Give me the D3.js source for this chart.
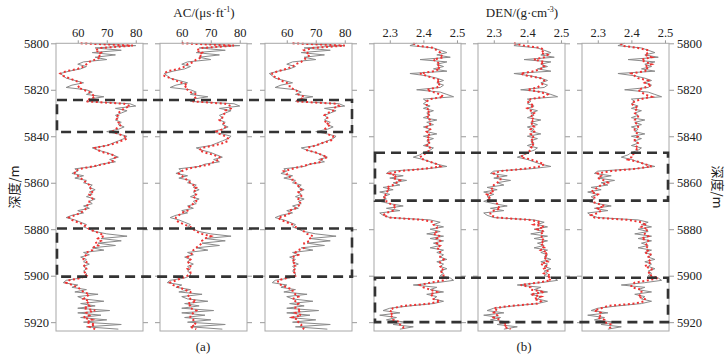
<!DOCTYPE html>
<html lang="zh">
<head>
  <meta charset="UTF-8" />
  <title>AC / DEN logs</title>
  <script src="https://cdn.jsdelivr.net/npm/d3@7"></script>
  <style>
    body { margin: 0; background: #fff; }
    text { font-family: "Liberation Serif", "Times New Roman", serif; fill: #222; }
    .cjk { font-family: "Noto Sans CJK SC", sans-serif; }
  </style>
</head>
<body>
<div id="chart"></div>
<script>
// depth index (m)
var depths = [
  5800,5801,5802,5803,5804,5805,5806,5807,5808,5809,
  5810,5811,5812,5813,5814,5815,5816,5817,5818,5819,
  5820,5821,5822,5823,5824,5825,5826,5827,5828,5829,
  5830,5831,5832,5833,5834,5835,5836,5837,5838,5839,
  5840,5841,5842,5843,5844,5845,5846,5847,5848,5849,
  5850,5851,5852,5853,5854,5855,5856,5857,5858,5859,
  5860,5861,5862,5863,5864,5865,5866,5867,5868,5869,
  5870,5871,5872,5873,5874,5875,5876,5877,5878,5879,
  5880,5881,5882,5883,5884,5885,5886,5887,5888,5889,
  5890,5891,5892,5893,5894,5895,5896,5897,5898,5899,
  5900,5901,5902,5903,5904,5905,5906,5907,5908,5909,
  5910,5911,5912,5913,5914,5915,5916,5917,5918,5919,
  5920,5921,5922,5923];

// measured AC (gray)
var acMeasured = [
  62,80,66,75,65,73,66,70,62,60,
  63,61,57,54,55,56,59,62,58,56,
  63,65,63,69,64,63,78,80,73,77,
  75,73,74,73,75,74,76,74,70,74,
  77,76,74,72,70,65,67,70,72,74,
  71,73,68,66,59,60,58,62,59,63,
  62,65,64,66,64,65,63,66,64,65,
  62,64,60,62,58,56,59,61,63,62,
  64,66,70,77,68,75,67,73,65,69,
  62,64,61,63,62,64,62,63,62,63,
  63,61,56,55,60,58,63,59,67,60,
  62,69,61,66,60,71,60,68,61,70,
  62,75,63,74];

// predicted AC, three models (red dotted)
var acPred1 = [
  61,79,68,66,68,67,68,66,64,63,
  62,60,56,54,55,57,59,61,61,60,
  62,64,65,66,64,63,76,78,76,75,
  74,74,73,74,74,75,74,73,72,74,
  76,77,75,73,70,66,67,69,72,73,
  72,72,69,65,61,59,59,60,61,62,
  63,64,64,65,65,64,65,65,64,64,
  63,63,62,61,59,57,58,60,62,63,
  64,66,68,69,67,68,66,67,65,65,
  63,63,62,62,63,63,62,63,63,62,
  63,61,57,56,58,60,61,62,64,63,
  62,64,63,64,62,66,63,64,62,65,
  63,66,64,66];
var acPred2 = [
  60,78,67,65,67,66,67,65,64,62,
  61,59,55,54,54,56,58,60,62,61,
  62,63,65,65,64,64,75,77,77,75,
  75,74,74,73,74,75,75,74,72,73,
  75,76,76,74,71,67,66,68,71,73,
  73,71,70,66,62,60,59,60,61,62,
  63,64,65,64,65,65,64,65,65,64,
  63,62,62,60,59,58,58,59,61,63,
  64,65,67,70,68,67,67,66,65,64,
  64,63,62,63,62,63,63,62,63,63,
  62,60,58,56,57,59,61,63,63,62,
  63,65,62,63,63,65,64,63,63,64,
  64,65,63,65];
var acPred3 = [
  62,80,69,66,67,68,67,66,65,63,
  62,60,57,55,55,57,58,60,61,61,
  63,64,64,66,65,63,77,78,76,76,
  74,73,74,74,73,75,74,73,73,74,
  76,76,75,72,70,67,67,70,72,74,
  72,72,68,65,62,59,60,60,62,62,
  63,64,64,65,64,65,65,64,64,65,
  64,63,61,61,60,57,58,60,62,63,
  65,66,67,69,68,68,66,66,66,64,
  63,64,62,62,63,62,63,63,62,63,
  63,60,57,57,58,60,62,62,63,64,
  62,63,64,63,63,65,63,65,62,64,
  64,65,65,66];

// measured DEN (gray)
var denMeasured = [
  2.38,2.36,2.43,2.45,2.47,2.44,2.48,2.39,2.47,2.44,
  2.46,2.43,2.47,2.36,2.41,2.44,2.46,2.44,2.46,2.45,
  2.38,2.45,2.47,2.49,2.40,2.41,2.40,2.42,2.40,2.43,
  2.41,2.42,2.40,2.44,2.41,2.43,2.40,2.42,2.41,2.44,
  2.40,2.43,2.41,2.42,2.40,2.43,2.42,2.40,2.39,2.37,
  2.40,2.42,2.44,2.47,2.41,2.30,2.29,2.34,2.30,2.35,
  2.31,2.33,2.28,2.31,2.27,2.30,2.28,2.29,2.27,2.30,
  2.34,2.29,2.33,2.27,2.28,2.30,2.42,2.45,2.43,2.46,
  2.42,2.45,2.41,2.46,2.42,2.46,2.43,2.45,2.42,2.46,
  2.44,2.46,2.45,2.47,2.44,2.46,2.45,2.47,2.45,2.46,
  2.45,2.48,2.49,2.44,2.37,2.44,2.42,2.46,2.41,2.44,
  2.43,2.46,2.43,2.36,2.30,2.28,2.33,2.27,2.32,2.29,
  2.35,2.31,2.37,2.33];

// predicted DEN, three models
var denPred1 = [
  2.37,2.38,2.43,2.44,2.45,2.45,2.46,2.43,2.44,2.45,
  2.44,2.45,2.43,2.39,2.41,2.43,2.45,2.44,2.45,2.44,
  2.41,2.43,2.45,2.46,2.42,2.41,2.41,2.41,2.41,2.42,
  2.41,2.42,2.41,2.42,2.42,2.42,2.41,2.42,2.41,2.42,
  2.41,2.42,2.41,2.42,2.41,2.42,2.42,2.41,2.40,2.39,
  2.40,2.42,2.44,2.45,2.40,2.33,2.30,2.32,2.31,2.33,
  2.32,2.31,2.29,2.30,2.29,2.29,2.28,2.29,2.29,2.30,
  2.32,2.31,2.31,2.29,2.28,2.30,2.40,2.43,2.43,2.44,
  2.44,2.44,2.43,2.45,2.44,2.45,2.44,2.45,2.44,2.45,
  2.45,2.45,2.45,2.46,2.45,2.45,2.45,2.46,2.45,2.46,
  2.46,2.47,2.46,2.42,2.39,2.40,2.42,2.44,2.42,2.43,
  2.43,2.45,2.42,2.34,2.31,2.30,2.31,2.30,2.31,2.31,
  2.33,2.33,2.34,2.34];
var denPred2 = [
  2.36,2.39,2.44,2.45,2.44,2.46,2.45,2.42,2.45,2.44,
  2.45,2.44,2.42,2.38,2.40,2.44,2.45,2.45,2.44,2.43,
  2.40,2.44,2.46,2.45,2.41,2.40,2.41,2.42,2.40,2.41,
  2.42,2.41,2.42,2.41,2.42,2.41,2.42,2.41,2.42,2.41,
  2.42,2.41,2.42,2.41,2.42,2.41,2.41,2.40,2.39,2.38,
  2.41,2.43,2.45,2.44,2.39,2.32,2.30,2.31,2.32,2.32,
  2.31,2.30,2.30,2.29,2.30,2.28,2.29,2.28,2.30,2.31,
  2.31,2.32,2.30,2.29,2.29,2.31,2.41,2.44,2.42,2.45,
  2.43,2.45,2.44,2.44,2.45,2.44,2.45,2.44,2.45,2.44,
  2.46,2.45,2.46,2.45,2.46,2.44,2.46,2.45,2.46,2.45,
  2.47,2.46,2.47,2.43,2.38,2.41,2.41,2.45,2.41,2.44,
  2.42,2.44,2.43,2.35,2.30,2.31,2.30,2.31,2.30,2.32,
  2.32,2.34,2.33,2.35];
var denPred3 = [
  2.37,2.37,2.42,2.45,2.45,2.44,2.46,2.43,2.44,2.46,
  2.44,2.45,2.44,2.40,2.41,2.42,2.45,2.44,2.46,2.44,
  2.42,2.43,2.44,2.46,2.43,2.41,2.40,2.41,2.42,2.41,
  2.41,2.42,2.42,2.41,2.41,2.42,2.42,2.41,2.41,2.42,
  2.42,2.41,2.41,2.42,2.42,2.41,2.42,2.42,2.40,2.40,
  2.39,2.42,2.44,2.46,2.41,2.34,2.30,2.31,2.30,2.32,
  2.33,2.31,2.30,2.29,2.28,2.30,2.29,2.29,2.28,2.30,
  2.32,2.30,2.31,2.30,2.28,2.29,2.39,2.43,2.44,2.43,
  2.45,2.44,2.44,2.45,2.43,2.45,2.45,2.44,2.45,2.45,
  2.44,2.46,2.45,2.45,2.46,2.45,2.44,2.46,2.46,2.45,
  2.46,2.48,2.45,2.41,2.40,2.40,2.43,2.43,2.43,2.42,
  2.44,2.44,2.41,2.33,2.31,2.29,2.31,2.31,2.30,2.32,
  2.32,2.34,2.34,2.33];

// tick labels
var depthTicks = [5800,5820,5840,5860,5880,5900,5920];
var acTicks = [60,70,80];
var denTicks = [2.3,2.4,2.5];

// dashed intervals (top depth, bottom depth)
var acBoxes = [[5824.4,5838.2],[5879.7,5900.4]];
var denBoxes = [[5847.1,5867.7],[5900.9,5920.0]];

var W = 728, H = 361;
var top0 = 43.3, bottom0 = 331;
var panelW = 87;
var lefts = [56,160,265,374,478,582];
var serif = '"Liberation Serif", "Times New Roman", serif';

var svg = d3.select("#chart").append("svg")
  .attr("width", W).attr("height", H);

var yScale = d3.scaleLinear()
  .domain([5800, 5923.8])
  .range([top0, bottom0]);

var panels = [
  {left: lefts[0], meas: acMeasured, pred: acPred1, dom: [52.5,82.5], ticks: acTicks},
  {left: lefts[1], meas: acMeasured, pred: acPred2, dom: [52.5,82.5], ticks: acTicks},
  {left: lefts[2], meas: acMeasured, pred: acPred3, dom: [52.5,82.5], ticks: acTicks},
  {left: lefts[3], meas: denMeasured, pred: denPred1, dom: [2.253,2.512], ticks: denTicks},
  {left: lefts[4], meas: denMeasured, pred: denPred2, dom: [2.253,2.512], ticks: denTicks},
  {left: lefts[5], meas: denMeasured, pred: denPred3, dom: [2.253,2.512], ticks: denTicks}
];

panels.forEach(function(p, k){
  var xScale = d3.scaleLinear().domain(p.dom).range([p.left, p.left + panelW]);
  var g = svg.append("g");

  // top axis
  var xAxis = d3.axisTop(xScale).tickValues(p.ticks).tickSize(3).tickPadding(3)
    .tickFormat(function(d){ return k < 3 ? d : d.toFixed(1); });
  var gx = g.append("g").attr("transform", "translate(0," + top0 + ")").call(xAxis);
  gx.attr("font-family", null);
  gx.select(".domain").remove();
  gx.selectAll("line").attr("stroke", "#999");
  gx.selectAll("text").style("font-family", serif).style("font-size", "12.5px").attr("fill", "#222");

  // depth ticks on both sides of every panel
  var yl = d3.axisLeft(yScale).tickValues(depthTicks).tickSize(5).tickPadding(2)
    .tickFormat(k == 0 ? d3.format("d") : "");
  var yr = d3.axisRight(yScale).tickValues(depthTicks).tickSize(5).tickPadding(3)
    .tickFormat(k == 5 ? d3.format("d") : "");
  [[yl, p.left], [yr, p.left + panelW]].forEach(function(a){
    var ga = g.append("g").attr("transform", "translate(" + a[1] + ",0)").call(a[0]);
    ga.attr("font-family", null);
    ga.select(".domain").remove();
    ga.selectAll("line").attr("stroke", "#999");
    ga.selectAll("text").style("font-family", serif).style("font-size", "12.5px").attr("fill", "#222");
  });

  var line = d3.line()
    .x(function(d){ return xScale(d[1]); })
    .y(function(d){ return yScale(d[0]); });

  g.append("path")
    .datum(d3.zip(depths, p.meas))
    .attr("d", line)
    .attr("fill", "none")
    .attr("stroke", "#8a8a8a")
    .attr("stroke-width", 1);

  g.append("path")
    .datum(d3.zip(depths, p.pred))
    .attr("d", line)
    .attr("fill", "none")
    .attr("stroke", "#f03232")
    .attr("stroke-width", 2)
    .attr("stroke-dasharray", "2,2.6");

  // frame
  g.append("rect")
    .attr("x", p.left).attr("y", top0)
    .attr("width", panelW).attr("height", bottom0 - top0)
    .attr("fill", "none").attr("stroke", "#a8a8a8").attr("stroke-width", 1);
});

// dashed boxes
function drawBoxes(boxes, x0, x1){
  boxes.forEach(function(b){
    svg.append("rect")
      .attr("x", x0).attr("y", yScale(b[0]))
      .attr("width", x1 - x0).attr("height", yScale(b[1]) - yScale(b[0]))
      .attr("fill", "none")
      .attr("stroke", "#333")
      .attr("stroke-width", 2.6)
      .attr("stroke-dasharray", "10,6");
  });
}
drawBoxes(acBoxes, lefts[0] + 1, lefts[2] + panelW);
drawBoxes(denBoxes, lefts[3] + 1, lefts[5] + panelW - 1);

// titles
var t1 = svg.append("text").attr("x", 204).attr("y", 17)
  .attr("text-anchor", "middle").attr("font-size", "13px");
t1.append("tspan").text("AC/(μs·ft");
t1.append("tspan").attr("dy", -5).attr("font-size", "8px").text("-1");
t1.append("tspan").attr("dy", 5).text(")");

var t2 = svg.append("text").attr("x", 522).attr("y", 17)
  .attr("text-anchor", "middle").attr("font-size", "13px");
t2.append("tspan").text("DEN/(g·cm");
t2.append("tspan").attr("dy", -5).attr("font-size", "8px").text("-3");
t2.append("tspan").attr("dy", 5).text(")");

svg.append("text").attr("x", 203).attr("y", 351)
  .attr("text-anchor", "middle").attr("font-size", "13px").text("(a)");
svg.append("text").attr("x", 524).attr("y", 351)
  .attr("text-anchor", "middle").attr("font-size", "13px").text("(b)");

// depth titles
svg.append("text").attr("class", "cjk")
  .attr("transform", "translate(19,187) rotate(-90)")
  .attr("text-anchor", "middle").attr("font-size", "13px").text("深度/m");
svg.append("text").attr("class", "cjk")
  .attr("transform", "translate(713,187) rotate(90)")
  .attr("text-anchor", "middle").attr("font-size", "13px").text("深度/m");
</script>
</body>
</html>
